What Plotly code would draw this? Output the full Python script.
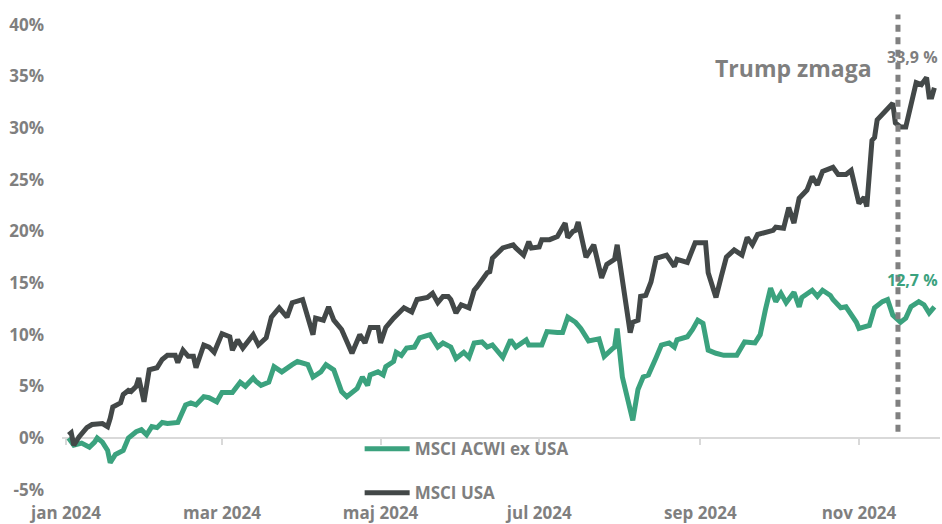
import plotly.graph_objects as go

# ---------------- data ----------------
usa_dates = [
    "2024-01-02", "2024-01-03", "2024-01-04", "2024-01-06", "2024-01-09", "2024-01-11", "2024-01-15",
    "2024-01-17", "2024-01-18", "2024-01-19", "2024-01-22", "2024-01-23", "2024-01-25", "2024-01-26",
    "2024-01-28", "2024-01-29", "2024-01-31", "2024-02-02", "2024-02-05", "2024-02-07", "2024-02-09",
    "2024-02-12", "2024-02-13", "2024-02-15", "2024-02-17", "2024-02-19", "2024-02-20", "2024-02-23",
    "2024-02-25", "2024-02-27", "2024-03-01", "2024-03-04", "2024-03-05", "2024-03-07", "2024-03-09",
    "2024-03-12", "2024-03-13", "2024-03-15", "2024-03-18", "2024-03-20", "2024-03-23", "2024-03-26",
    "2024-03-28", "2024-04-01", "2024-04-03", "2024-04-05", "2024-04-06", "2024-04-09", "2024-04-11",
    "2024-04-13", "2024-04-16", "2024-04-18", "2024-04-20", "2024-04-23", "2024-04-25", "2024-04-27",
    "2024-04-30", "2024-05-01", "2024-05-03", "2024-05-06", "2024-05-10", "2024-05-13", "2024-05-15",
    "2024-05-19", "2024-05-21", "2024-05-23", "2024-05-25", "2024-05-27", "2024-05-28", "2024-05-30",
    "2024-06-01", "2024-06-04", "2024-06-06", "2024-06-07", "2024-06-11", "2024-06-12", "2024-06-13",
    "2024-06-17", "2024-06-21", "2024-06-22", "2024-06-25", "2024-06-27", "2024-06-28", "2024-07-01",
    "2024-07-02", "2024-07-05", "2024-07-08", "2024-07-11", "2024-07-12", "2024-07-14", "2024-07-15",
    "2024-07-16", "2024-07-18", "2024-07-19", "2024-07-22", "2024-07-25", "2024-07-27", "2024-07-30",
    "2024-07-31", "2024-08-03", "2024-08-05", "2024-08-06", "2024-08-08", "2024-08-09", "2024-08-11",
    "2024-08-13", "2024-08-15", "2024-08-19", "2024-08-22", "2024-08-23", "2024-08-27", "2024-08-30",
    "2024-09-03", "2024-09-04", "2024-09-07", "2024-09-09", "2024-09-11", "2024-09-14", "2024-09-17",
    "2024-09-19", "2024-09-21", "2024-09-23", "2024-09-25", "2024-09-29", "2024-09-30", "2024-10-03",
    "2024-10-05", "2024-10-07", "2024-10-09", "2024-10-12", "2024-10-14", "2024-10-16", "2024-10-18",
    "2024-10-21", "2024-10-22", "2024-10-24", "2024-10-27", "2024-10-29", "2024-10-31", "2024-11-01",
    "2024-11-03", "2024-11-04", "2024-11-06", "2024-11-07", "2024-11-08", "2024-11-11", "2024-11-14",
    "2024-11-15", "2024-11-17", "2024-11-19", "2024-11-21", "2024-11-23", "2024-11-25", "2024-11-27",
    "2024-11-28", "2024-11-29", "2024-11-30",
]
usa_values = [
    0.3, 0.5, -0.7, 0.1, 1.0, 1.3, 1.4,
    1.1, 1.9, 3.0, 3.4, 4.2, 4.6, 4.5,
    5.0, 5.8, 3.5, 6.6, 6.8, 7.6, 8.0,
    8.0, 7.3, 8.5, 7.9, 7.9, 6.8, 9.0,
    8.8, 8.3, 10.1, 9.8, 8.5, 9.5, 8.7,
    9.6, 10.0, 9.0, 9.7, 11.7, 12.6, 11.7,
    13.1, 13.4, 11.7, 10.0, 11.6, 11.4, 12.7,
    11.4, 10.5, 9.2, 8.2, 10.0, 9.2, 10.7,
    10.7, 9.2, 10.7, 11.6, 12.6, 12.2, 13.4,
    13.6, 14.0, 13.1, 13.7, 13.7, 13.4, 12.1,
    12.9, 12.6, 14.3, 14.6, 16.0, 16.1, 17.4,
    18.4, 18.7, 18.4, 17.7, 19.0, 18.4, 18.5,
    19.2, 19.2, 19.5, 20.8, 19.4, 20.0, 20.1,
    20.9, 18.7, 17.5, 18.7, 15.5, 16.8, 17.3,
    18.7, 13.4, 10.2, 11.2, 11.4, 13.7, 13.8,
    15.1, 17.4, 17.7, 16.6, 17.3, 17.0, 18.9,
    18.9, 16.0, 13.6, 15.6, 17.5, 18.2, 17.7,
    19.4, 18.7, 19.7, 19.8, 20.1, 20.4, 20.3,
    22.3, 20.8, 23.2, 24.0, 25.3, 24.5, 25.8,
    26.1, 26.2, 25.5, 25.5, 25.9, 23.7, 22.7,
    23.3, 22.4, 28.8, 29.1, 30.8, 31.6, 32.4,
    30.5, 30.1, 30.1, 32.4, 34.4, 34.2, 34.9,
    33.0, 33.0, 33.9,
]

acwi_dates = [
    "2024-01-02", "2024-01-03", "2024-01-04", "2024-01-07", "2024-01-10", "2024-01-12", "2024-01-13",
    "2024-01-15", "2024-01-17", "2024-01-18", "2024-01-20", "2024-01-23", "2024-01-25", "2024-01-28",
    "2024-01-30", "2024-02-01", "2024-02-03", "2024-02-05", "2024-02-07", "2024-02-09", "2024-02-13",
    "2024-02-16", "2024-02-18", "2024-02-20", "2024-02-23", "2024-02-25", "2024-02-27", "2024-02-28",
    "2024-03-01", "2024-03-05", "2024-03-08", "2024-03-10", "2024-03-13", "2024-03-14", "2024-03-16",
    "2024-03-19", "2024-03-21", "2024-03-24", "2024-03-28", "2024-03-30", "2024-04-03", "2024-04-05",
    "2024-04-08", "2024-04-10", "2024-04-13", "2024-04-16", "2024-04-18", "2024-04-22", "2024-04-24",
    "2024-04-26", "2024-04-27", "2024-04-30", "2024-05-02", "2024-05-03", "2024-05-06", "2024-05-07",
    "2024-05-09", "2024-05-11", "2024-05-14", "2024-05-16", "2024-05-20", "2024-05-23", "2024-05-25",
    "2024-05-28", "2024-05-30", "2024-06-02", "2024-06-04", "2024-06-06", "2024-06-09", "2024-06-11",
    "2024-06-13", "2024-06-17", "2024-06-20", "2024-06-22", "2024-06-26", "2024-06-27", "2024-07-02",
    "2024-07-04", "2024-07-08", "2024-07-10", "2024-07-12", "2024-07-15", "2024-07-17", "2024-07-20",
    "2024-07-24", "2024-07-26", "2024-07-29", "2024-07-30", "2024-07-31", "2024-08-02", "2024-08-06",
    "2024-08-08", "2024-08-10", "2024-08-12", "2024-08-15", "2024-08-17", "2024-08-20", "2024-08-22",
    "2024-08-23", "2024-08-27", "2024-08-29", "2024-08-31", "2024-09-02", "2024-09-04", "2024-09-07",
    "2024-09-10", "2024-09-15", "2024-09-18", "2024-09-22", "2024-09-24", "2024-09-26", "2024-09-28",
    "2024-09-30", "2024-10-02", "2024-10-04", "2024-10-07", "2024-10-09", "2024-10-10", "2024-10-14",
    "2024-10-16", "2024-10-18", "2024-10-21", "2024-10-22", "2024-10-25", "2024-10-27", "2024-10-31",
    "2024-11-01", "2024-11-05", "2024-11-07", "2024-11-10", "2024-11-12", "2024-11-14", "2024-11-17",
    "2024-11-19", "2024-11-21", "2024-11-24", "2024-11-26", "2024-11-28", "2024-11-30",
]
acwi_values = [
    0.0, -0.4, -0.7, -0.5, -0.9, -0.4, 0.0,
    -0.4, -1.2, -2.4, -1.6, -1.2, 0.0, 0.6,
    0.8, 0.3, 1.1, 1.0, 1.5, 1.4, 1.5,
    3.2, 3.4, 3.2, 4.0, 3.9, 3.7, 3.5,
    4.4, 4.4, 5.4, 5.0, 5.8, 5.5, 5.1,
    5.4, 6.9, 6.4, 7.1, 7.4, 7.1, 5.9,
    6.4, 7.1, 6.6, 4.5, 4.0, 4.8, 5.9,
    5.1, 6.1, 6.4, 6.1, 6.9, 7.4, 8.3,
    8.0, 8.7, 8.8, 9.7, 10.0, 8.8, 9.2,
    8.8, 7.7, 8.3, 7.8, 9.2, 9.3, 8.8,
    9.0, 7.8, 9.5, 8.8, 9.5, 9.0, 9.0,
    10.3, 10.2, 10.2, 11.7, 11.2, 10.6, 9.4,
    9.6, 7.9, 8.6, 8.8, 10.6, 5.9, 1.7,
    4.7, 5.9, 6.1, 7.8, 9.0, 9.2, 8.8,
    9.5, 9.8, 10.5, 11.4, 11.1, 8.5, 8.2,
    8.0, 8.0, 9.3, 9.2, 10.0, 12.4, 14.5,
    13.2, 14.0, 13.1, 14.1, 12.7, 13.6, 14.3,
    13.7, 14.3, 13.8, 13.4, 12.6, 12.7, 11.2,
    10.6, 10.9, 12.6, 13.2, 13.4, 11.9, 11.2,
    11.6, 12.7, 13.2, 12.9, 12.1, 12.7,
]

series_names = ["MSCI ACWI ex USA", "MSCI USA"]
month_ticks = ["2024-01-01", "2024-03-01", "2024-05-01", "2024-07-01", "2024-09-01", "2024-11-01"]
month_labels = ["jan 2024", "mar 2024", "maj 2024", "jul 2024", "sep 2024", "nov 2024"]
y_ticks = [-5, 0, 5, 10, 15, 20, 25, 30, 35, 40]
y_labels = ["-5%", "0%", "5%", "10%", "15%", "20%", "25%", "30%", "35%", "40%"]

event_date = "2024-11-16"
event_text = "Trump zmaga"
usa_end_text = "33,9 %"
acwi_end_text = "12,7 %"

# ---------------- style ----------------
GREEN = "#3ba27e"
DARK = "#434848"
GRAY = "#7f7f7f"
AXIS = "#d9d9d9"
FONT = "Open Sans"

x_range = ["2023-12-30 11:00", "2024-12-02 04:00"]
y_range = [-5.81, 41.43]
zero_pos = (0 - y_range[0]) / (y_range[1] - y_range[0])

fig = go.Figure()
fig.add_trace(go.Scatter(
    x=acwi_dates, y=acwi_values, name=series_names[0], mode="lines", showlegend=True,
    line=dict(color=GREEN, width=5), legend="legend", hoverinfo="skip",
))
fig.add_trace(go.Scatter(
    x=usa_dates, y=usa_values, name=series_names[1], mode="lines", showlegend=True,
    line=dict(color=DARK, width=5), xaxis="x2", legend="legend2", hoverinfo="skip",
))

# vertical dotted event line
fig.add_shape(type="line", xref="x", yref="y", x0=event_date, x1=event_date, y0=0.6, y1=41.0,
              line=dict(color="#808080", width=5, dash="7px,5.5px"))

fig.add_annotation(x="2024-10-07", y=35.8, xref="x", yref="y", text=event_text, showarrow=False,
                   font=dict(family=FONT, size=23, color=GRAY, weight="bold"))
fig.add_annotation(x=1.0, y=36.9, xref="paper", yref="y", xanchor="right", text=usa_end_text,
                   showarrow=False, font=dict(family=FONT, size=16, color=GRAY, weight="bold"))
fig.add_annotation(x=1.0, y=15.3, xref="paper", yref="y", xanchor="right", text=acwi_end_text,
                   showarrow=False, font=dict(family=FONT, size=16, color=GREEN, weight="bold"))

legend_font = dict(family=FONT, size=17, color=GRAY, weight="bold")
fig.update_layout(
    width=942, height=524,
    margin=dict(l=62, r=2, t=10, b=26, autoexpand=False),
    paper_bgcolor="white", plot_bgcolor="white",
    font=dict(family=FONT, color=GRAY),
    showlegend=True,
    legend=dict(x=0.339, y=0.100, xanchor="left", yanchor="middle", bgcolor="rgba(0,0,0,0)",
                font=legend_font, itemwidth=45),
    legend2=dict(x=0.339, y=0.010, xanchor="left", yanchor="middle", bgcolor="rgba(0,0,0,0)",
                 font=legend_font, itemwidth=45),
    xaxis=dict(
        type="date", range=x_range, showgrid=False, zeroline=False, showline=False, automargin=False,
        tickmode="array", tickvals=month_ticks, ticktext=month_labels, ticks="",
        tickfont=dict(family=FONT, size=17, color=GRAY, weight="bold"), ticklabelstandoff=3,
    ),
    xaxis2=dict(
        type="date", range=x_range, overlaying="x", anchor="free", position=zero_pos, automargin=False,
        showgrid=False, zeroline=False, showline=True, linecolor=AXIS, linewidth=2,
        tickmode="array", tickvals=month_ticks, ticks="outside", ticklen=6, tickcolor=AXIS,
        tickwidth=1.5, showticklabels=False, layer="below traces",
    ),
    yaxis=dict(
        range=y_range, showgrid=False, zeroline=False, showline=False, automargin=False,
        tickmode="array", tickvals=y_ticks, ticktext=y_labels, ticks="",
        tickfont=dict(family=FONT, size=17, color=GRAY, weight="bold"), ticklabelstandoff=17,
    ),
)

# remove the default 8px page margin so the figure sits at the window's top-left corner
fig.write_html(
    "out.html",
    config={"displayModeBar": False},
    post_script="document.body.style.margin='0';document.body.style.overflow='hidden';",
)
